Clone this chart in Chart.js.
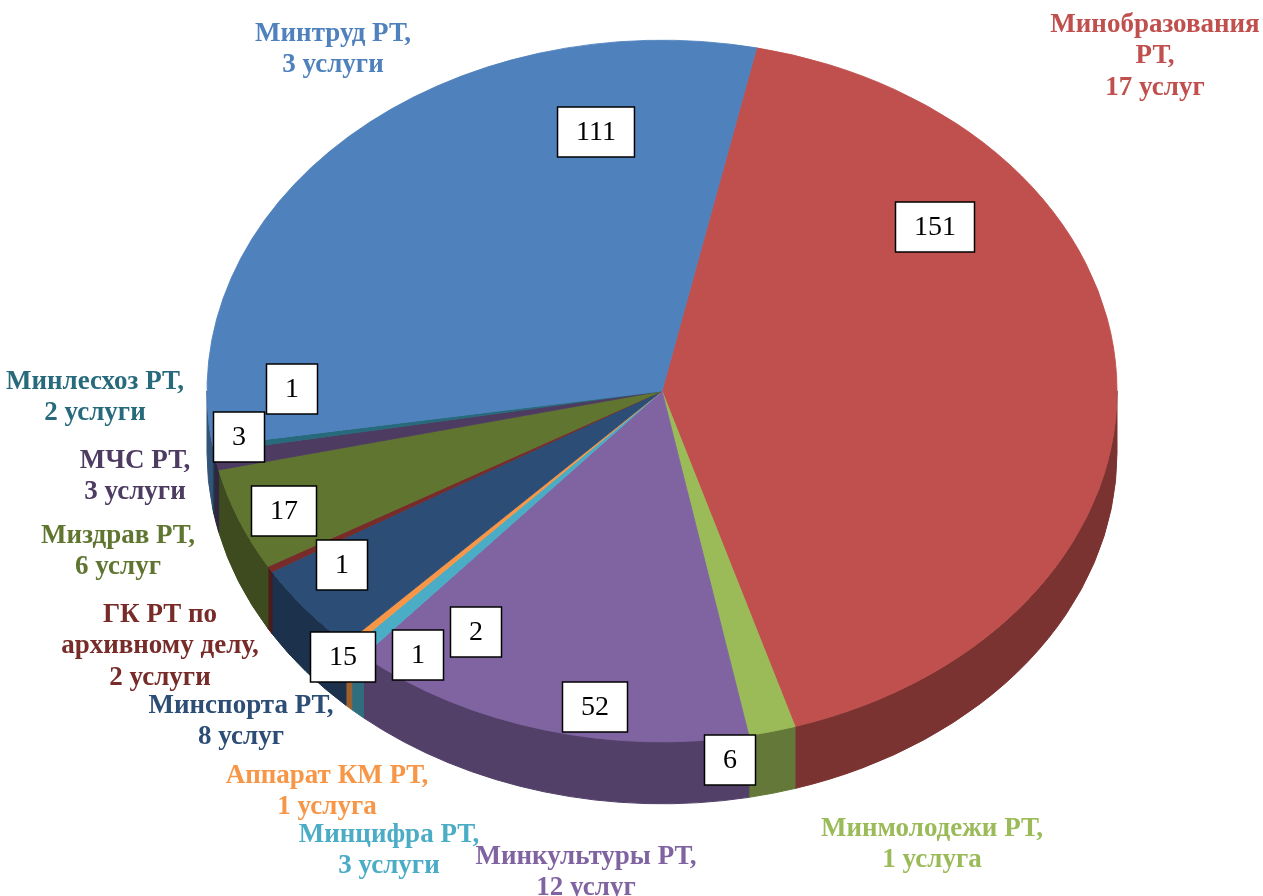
<!DOCTYPE html>
<html>
<head>
<meta charset="utf-8">
<script src="https://cdn.jsdelivr.net/npm/chart.js@4.4.1/dist/chart.umd.min.js"></script>
<style>
  html, body { margin: 0; padding: 0; background: #fff; }
  #wrap { width: 1263px; height: 896px; }
</style>
</head>
<body>
<div id="wrap"><canvas id="pie3d"></canvas></div>
<script>
// data, clockwise from the top
const agencies = ['Минобразования\nРТ', 'Минмолодежи РТ', 'Минкультуры РТ', 'Минцифра РТ', 'Аппарат КМ РТ',
  'Минспорта РТ', 'ГК РТ по\nархивному делу', 'Миздрав РТ', 'МЧС РТ', 'Минлесхоз РТ', 'Минтруд РТ'];
const serviceCounts = ['17 услуг', '1 услуга', '12 услуг', '3 услуги', '1 услуга',
  '8 услуг', '2 услуги', '6 услуг', '3 услуги', '2 услуги', '3 услуги'];
const values = [151, 6, 52, 2, 1, 15, 1, 17, 3, 1, 111];

const sliceColors = ['#C0504D', '#9BBB59', '#8064A2', '#4BACC6', '#F79646',
  '#2C4D75', '#772C2A', '#5F7530', '#4D3B62', '#276A7C', '#4F81BD'];

// label placement (manually placed in the original)
const namePos = [[1155, 25], [932, 829], [586, 857], [389, 835], [327, 776],
  [241, 706], [160, 615], [118, 536], [135, 461], [95, 382], [333, 34]];
const boxPos = [[935, 227], [730, 760], [595, 707], [476, 632], [418, 655],
  [343, 657], [342, 565], [284, 511], [239, 437], [292, 389], [596, 132]];

const tilt = 0.771;
const depth = 62;

function shade(hex, f)
{
  const n = parseInt(hex.slice(1), 16);
  const r = Math.round(((n >> 16) & 255) * f);
  const g = Math.round(((n >> 8) & 255) * f);
  const b = Math.round((n & 255) * f);
  return 'rgb(' + r + ',' + g + ',' + b + ')';
}

const pie3d = {
  id: 'pie3d',
  beforeDatasetsDraw(chart) {
    const ctx = chart.ctx;
    const arcs = chart.getDatasetMeta(0).data;
    ctx.save();
    // outer wall, only the front half is visible
    arcs.forEach((arc, i) => {
      const {x, y, startAngle, endAngle, outerRadius} = arc;
      for (let k = -1; k <= 2; k++) {
        const a = Math.max(startAngle, 2 * Math.PI * k);
        const b = Math.min(endAngle, 2 * Math.PI * k + Math.PI);
        if (b <= a) continue;
        ctx.beginPath();
        ctx.ellipse(x, y, outerRadius, outerRadius * tilt, 0, a, b);
        ctx.ellipse(x, y + depth, outerRadius, outerRadius * tilt, 0, b, a, true);
        ctx.closePath();
        ctx.fillStyle = shade(sliceColors[i], 0.64);
        ctx.strokeStyle = ctx.fillStyle;
        ctx.lineWidth = 1;
        ctx.fill();
        ctx.stroke();
      }
    });
    // squash the top face into an ellipse
    const cx = arcs[0].x, cy = arcs[0].y;
    ctx.translate(cx, cy);
    ctx.scale(1, tilt);
    ctx.translate(-cx, -cy);
  },
  afterDatasetsDraw(chart) {
    chart.ctx.restore();
  },
  afterDraw(chart) {
    const ctx = chart.ctx;
    ctx.save();
    ctx.textAlign = 'center';
    ctx.textBaseline = 'middle';

    ctx.font = 'bold 27px "Liberation Serif", "Times New Roman", serif';
    agencies.forEach((name, i) => {
      const lines = (name + ',\n' + serviceCounts[i]).split('\n');
      ctx.fillStyle = sliceColors[i];
      lines.forEach((line, j) => {
        ctx.fillText(line, namePos[i][0], namePos[i][1] + j * 31.5);
      });
    });

    ctx.font = '28px "Liberation Serif", "Times New Roman", serif';
    values.forEach((v, i) => {
      const txt = String(v);
      const w = ctx.measureText(txt).width + 37;
      const h = 50;
      const bx = boxPos[i][0], by = boxPos[i][1];
      ctx.fillStyle = '#fff';
      ctx.fillRect(bx - w / 2, by - h / 2, w, h);
      ctx.strokeStyle = '#000';
      ctx.lineWidth = 1.5;
      ctx.strokeRect(bx - w / 2, by - h / 2, w, h);
      ctx.fillStyle = '#000';
      ctx.fillText(txt, bx, by + 1);
    });
    ctx.restore();
  }
};

new Chart('pie3d', {
  type: 'pie',
  data: {
    labels: agencies,
    datasets: [{
      data: values,
      backgroundColor: sliceColors,
      borderColor: sliceColors,
      borderWidth: 1,
      clip: false
    }]
  },
  options: {
    responsive: true,
    maintainAspectRatio: false,
    animation: false,
    events: [],
    rotation: 12,
    radius: 455,
    layout: { padding: { left: 61, right: 0, top: 0, bottom: 114 } },
    plugins: {
      legend: { display: false },
      tooltip: { enabled: false }
    }
  },
  plugins: [pie3d]
});
</script>
</body>
</html>
